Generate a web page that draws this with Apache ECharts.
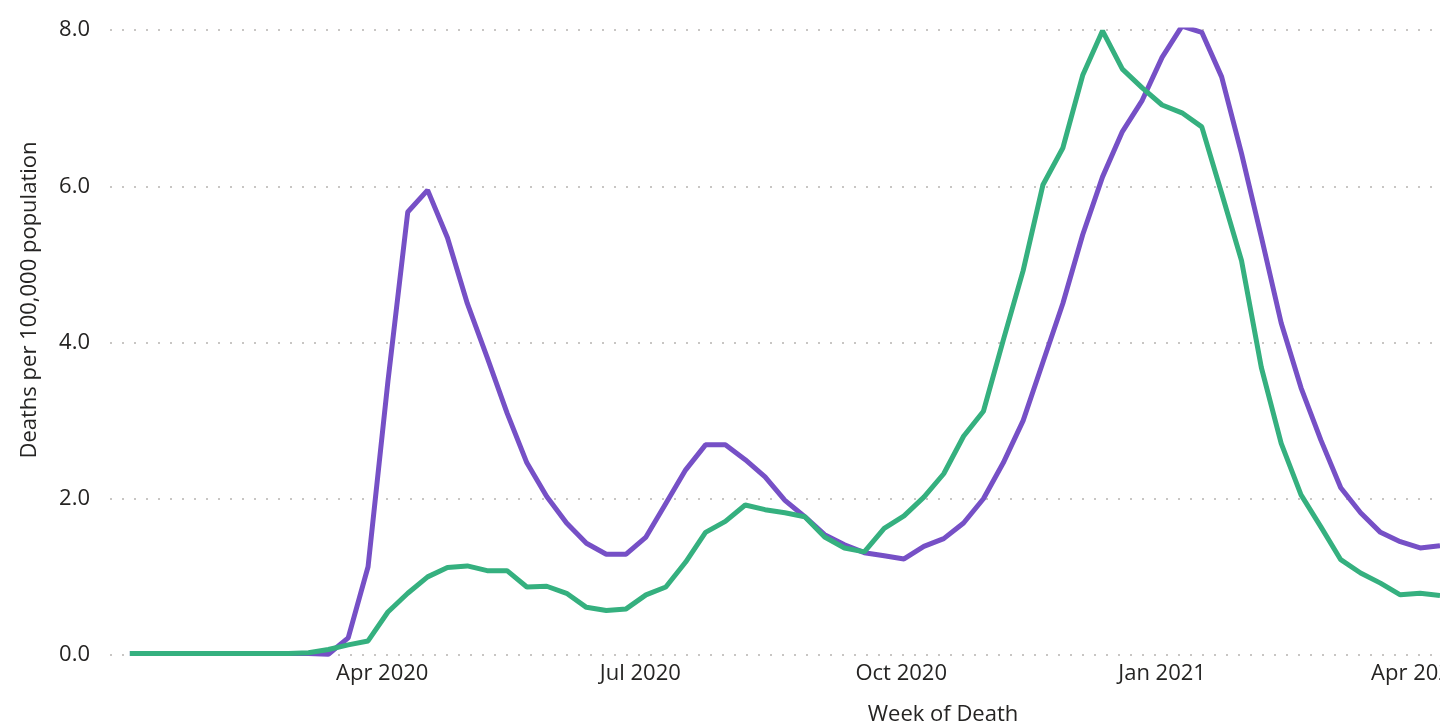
<!DOCTYPE html>
<html>
<head>
<meta charset="utf-8">
<script src="https://cdn.jsdelivr.net/npm/echarts@6/dist/echarts.min.js"></script>
<style>
  html, body { margin: 0; padding: 0; background: #ffffff; }
  #chart { width: 1440px; height: 726px; }
</style>
</head>
<body>
<div id="chart"></div>
<script>
// Week-of-death dates (weekly)
const weeks = [
  '2020-01-03','2020-01-10','2020-01-17','2020-01-24','2020-01-31',
  '2020-02-07','2020-02-14','2020-02-21','2020-02-28',
  '2020-03-06','2020-03-13','2020-03-20','2020-03-27',
  '2020-04-03','2020-04-10','2020-04-17','2020-04-24',
  '2020-05-01','2020-05-08','2020-05-15','2020-05-22','2020-05-29',
  '2020-06-05','2020-06-12','2020-06-19','2020-06-26',
  '2020-07-03','2020-07-10','2020-07-17','2020-07-24','2020-07-31',
  '2020-08-07','2020-08-14','2020-08-21','2020-08-28',
  '2020-09-04','2020-09-11','2020-09-18','2020-09-25',
  '2020-10-02','2020-10-09','2020-10-16','2020-10-23','2020-10-30',
  '2020-11-06','2020-11-13','2020-11-20','2020-11-27',
  '2020-12-04','2020-12-11','2020-12-18','2020-12-25',
  '2021-01-01','2021-01-08','2021-01-15','2021-01-22','2021-01-29',
  '2021-02-05','2021-02-12','2021-02-19','2021-02-26',
  '2021-03-05','2021-03-12','2021-03-19','2021-03-26',
  '2021-04-02','2021-04-09'
];

// Deaths per 100,000 population — purple series
const seriesPurple = [
  0.02,0.02,0.02,0.02,0.02,0.02,0.02,0.02,0.02,0.02,
  0.01,0.22,1.13,3.50,5.67,5.95,5.34,4.50,3.81,3.10,
  2.46,2.03,1.69,1.43,1.29,1.29,1.51,1.94,2.37,2.69,
  2.69,2.50,2.28,1.98,1.77,1.54,1.41,1.31,1.27,1.23,
  1.39,1.49,1.69,2.00,2.46,3.00,3.75,4.50,5.38,6.12,
  6.70,7.10,7.65,8.05,7.97,7.40,6.42,5.35,4.25,3.42,
  2.75,2.14,1.82,1.57,1.45,1.37,1.40
];

// Deaths per 100,000 population — green series
const seriesGreen = [
  0.02,0.02,0.02,0.02,0.02,0.02,0.02,0.02,0.02,0.03,
  0.07,0.13,0.18,0.55,0.79,1.00,1.12,1.14,1.08,1.08,
  0.87,0.88,0.79,0.61,0.57,0.59,0.77,0.87,1.19,1.57,
  1.71,1.92,1.86,1.82,1.77,1.51,1.37,1.32,1.62,1.78,
  2.02,2.32,2.80,3.12,4.03,4.92,6.02,6.49,7.42,7.99,
  7.50,7.26,7.04,6.94,6.76,5.91,5.05,3.68,2.71,2.05,
  1.64,1.22,1.05,0.92,0.77,0.79,0.76
];

const monthNames = ['Jan','Feb','Mar','Apr','May','Jun','Jul','Aug','Sep','Oct','Nov','Dec'];
const yAxisTitle = 'Deaths per 100,000 population';
const xAxisTitle = 'Week of Death';

const FONT = '"Open Sans", "Noto Sans", sans-serif';
const TEXT = '#252423';
const firstWeek = new Date(weeks[0]).getTime();

const chart = echarts.init(document.getElementById('chart'), null, { renderer: 'canvas' });

chart.setOption({
  animation: false,
  backgroundColor: '#ffffff',
  grid: { left: 110, right: 0, top: 30, bottom: 71, containLabel: false, outerBoundsMode: 'none' },
  xAxis: {
    type: 'time',
    min: '2019-12-27',
    max: '2021-04-09',
    splitNumber: 4,
    axisLine: { show: false },
    axisTick: { show: false },
    splitLine: { show: false },
    axisLabel: {
      color: TEXT,
      fontFamily: FONT,
      fontSize: 22,
      margin: 8,
      hideOverlap: false,
      formatter: function (val) {
        if (val < firstWeek) return '';
        const d = new Date(val);
        return monthNames[d.getMonth()] + ' ' + d.getFullYear();
      }
    }
  },
  yAxis: {
    type: 'value',
    min: 0,
    max: 8,
    interval: 2,
    axisLine: { show: false },
    axisTick: { show: false },
    axisLabel: {
      color: TEXT,
      fontFamily: FONT,
      fontSize: 22,
      margin: 20,
      formatter: function (v) { return v.toFixed(1); }
    },
    splitLine: {
      show: true,
      lineStyle: { color: '#c8c6c4', width: 2, type: [2, 10] }
    }
  },
  graphic: [
    {
      type: 'text',
      x: 30, y: 300,
      rotation: Math.PI / 2,
      style: {
        text: yAxisTitle,
        fill: TEXT,
        font: '22px ' + FONT,
        textAlign: 'center',
        textVerticalAlign: 'middle'
      }
    },
    {
      type: 'text',
      x: 943, y: 715,
      style: {
        text: xAxisTitle,
        fill: TEXT,
        font: '22px ' + FONT,
        textAlign: 'center',
        textVerticalAlign: 'middle'
      }
    }
  ],
  series: [
    {
      name: 'Purple',
      type: 'line',
      data: weeks.map((w, i) => [w, seriesPurple[i]]),
      showSymbol: false,
      smooth: false,
      clip: true,
      lineStyle: { color: '#7650c6', width: 5 },
      itemStyle: { color: '#7650c6' },
      z: 3
    },
    {
      name: 'Green',
      type: 'line',
      data: weeks.map((w, i) => [w, seriesGreen[i]]),
      showSymbol: false,
      smooth: false,
      clip: true,
      lineStyle: { color: '#35b07f', width: 5 },
      itemStyle: { color: '#35b07f' },
      z: 4
    }
  ]
});
</script>
</body>
</html>
